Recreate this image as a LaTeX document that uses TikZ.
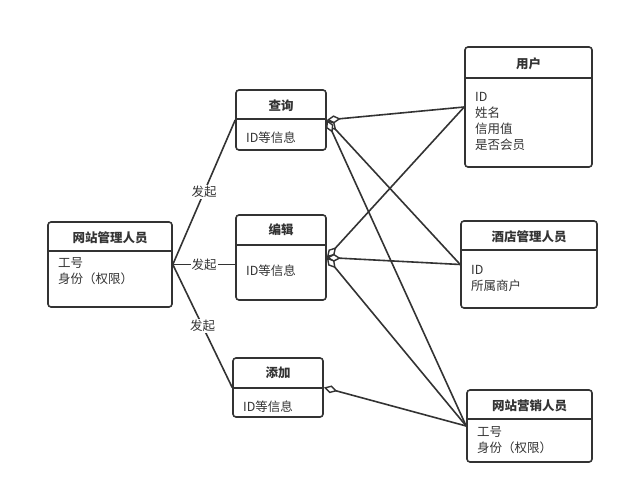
\documentclass[tikz,border=0pt]{standalone}
\usepackage{fontspec}
\setmainfont{Noto Sans CJK SC}
\usetikzlibrary{arrows.meta,positioning}
\definecolor{linegray}{RGB}{51,51,51}
\tikzset{
  entity/.style={draw=linegray, line width=1.6pt, rounded corners=3pt, inner sep=0pt},
  etitle/.style={font=\bfseries\fontsize{12.5}{16}\selectfont, text=linegray},
  ebody/.style={font=\fontsize{12.5}{16}\selectfont, text=linegray, align=left, anchor=west, inner sep=0pt},
  rel/.style={draw=linegray, line width=1.6pt},
  agg/.style={rel, arrows={Diamond[fill=white, length=14pt, width=8pt, line width=1.4pt]-}},
  lbl/.style={fill=white, inner sep=1pt, font=\fontsize{12.5}{14}\selectfont, text=linegray}
}

\begin{document}
\begin{tikzpicture}[x=1pt,y=-1pt]
  \useasboundingbox (0,0) rectangle (629,495);

  % actions
  \node[entity, minimum width=90pt, minimum height=60pt] (cx) at (281,120) {};
  \draw[rel] (cx.west |- 0,119) -- (cx.east |- 0,119);
  \node[etitle] (cxt) at (281,106) {查询};
  \node[ebody] (cxb) at (246,138) {ID等信息};

  \node[entity, minimum width=90pt, minimum height=85pt] (bj) at (281,257.5) {};
  \draw[rel] (bj.west |- 0,245) -- (bj.east |- 0,245);
  \node[etitle] (bjt) at (281,230) {编辑};
  \node[ebody] (bjb) at (246,271) {ID等信息};

  \node[entity, minimum width=90pt, minimum height=59pt] (tj) at (278,387.5) {};
  \draw[rel] (tj.west |- 0,388) -- (tj.east |- 0,388);
  \node[etitle] (tjt) at (278,373) {添加};
  \node[ebody] (tjb) at (243,407) {ID等信息};

  % roles
  \node[entity, minimum width=124pt, minimum height=85pt] (gl) at (110,264.5) {};
  \draw[rel] (gl.west |- 0,251) -- (gl.east |- 0,251);
  \node[etitle] (glt) at (110,238) {网站管理人员};
  \node[ebody] (glb) at (58,271.5) {工号\\身份（权限）};

  \node[entity, minimum width=127pt, minimum height=120pt] (yh) at (528.5,107) {};
  \draw[rel] (yh.west |- 0,78) -- (yh.east |- 0,78);
  \node[etitle] (yht) at (528.5,64) {用户};
  \node[ebody] (yhb) at (475,121.5) {ID\\姓名\\信用值\\是否会员};

  \node[entity, minimum width=136pt, minimum height=87pt] (jd) at (529,264.5) {};
  \draw[rel] (jd.west |- 0,250) -- (jd.east |- 0,250);
  \node[etitle] (jdt) at (529,237) {酒店管理人员};
  \node[ebody] (jdb) at (471,278) {ID\\所属商户};

  \node[entity, minimum width=125pt, minimum height=72pt] (yx) at (529.5,426) {};
  \draw[rel] (yx.west |- 0,419) -- (yx.east |- 0,419);
  \node[etitle] (yxt) at (529.5,405.5) {网站营销人员};
  \node[ebody] (yxb) at (477,440) {工号\\身份（权限）};

  % connectors
  \draw[rel] (gl.east) -- node[lbl] {发起} (cx.west);
  \draw[rel] (gl.east) -- node[lbl] {发起} (gl.east -| bj.west);
  \draw[rel] (gl.east) -- node[lbl] {发起} (tj.west);

  \draw[agg] (cx.east) -- (yh.west);
  \draw[agg] (cx.east) -- (jd.west);
  \draw[agg] (cx.east) -- (yx.west);
  \draw[agg] (bj.east) -- (yh.west);
  \draw[agg] (bj.east) -- (jd.west);
  \draw[agg] (bj.east) -- (yx.west);
  \draw[agg] (tj.east) -- (yx.west);
\end{tikzpicture}
\end{document}
